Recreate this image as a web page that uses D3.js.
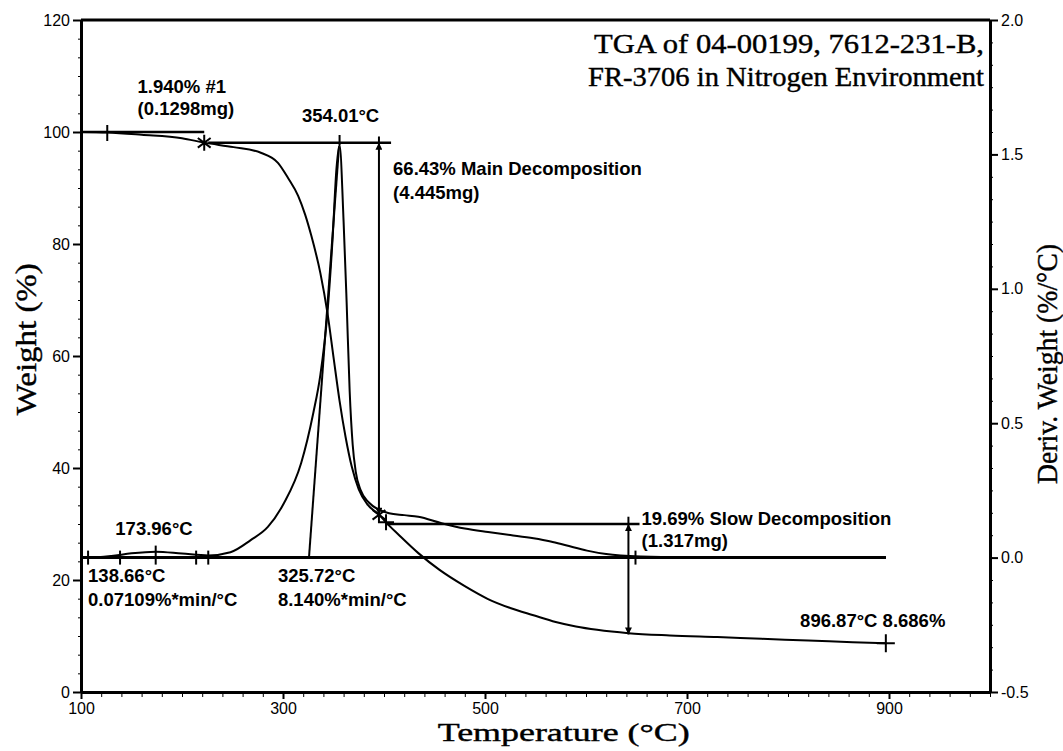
<!DOCTYPE html>
<html>
<head>
<meta charset="utf-8">
<script src="https://cdn.jsdelivr.net/npm/d3@7"></script>
<style>
  body { margin: 0; background: #fff; }
  .tick text { font-family: "Liberation Sans", Arial, sans-serif; font-size: 16px; fill: #000; }
  .note { font-family: "Liberation Sans", Arial, sans-serif; font-size: 18.5px; font-weight: bold; fill: #000; }
  .axis-title { font-family: "Liberation Serif", "Times New Roman", serif; font-size: 30px; fill: #000; stroke: #000; stroke-width: 0.4px; }
  .chart-title { font-family: "Liberation Serif", "Times New Roman", serif; font-size: 28px; fill: #000; stroke: #000; stroke-width: 0.4px; }
</style>
</head>
<body>
<div id="chart"></div>
<script>
// TGA weight curve (temperature in °C, weight in %)
const weightTemp = [100, 126, 160, 200, 222, 251, 278, 295, 305, 315, 322, 328, 337, 344, 350, 356, 362, 368, 375, 384, 395, 402, 415, 434, 455, 480, 503, 525, 548, 570, 590, 611, 642, 683, 730, 774, 820, 864, 897];
const weightPct  = [100, 99.9, 99.5, 98.9, 98.1, 97.3, 96.3, 94.5, 91.8, 88.6, 85.2, 81.5, 74.8, 67.7, 59.8, 52.0, 45.5, 40.3, 36.2, 33.4, 31.7, 30.3, 28.0, 24.8, 21.8, 18.9, 16.6, 15.0, 13.7, 12.5, 11.7, 11.1, 10.5, 10.1, 9.8, 9.5, 9.2, 8.9, 8.69];

// derivative weight curve (%/°C)
const derivTemp = [100, 107, 130, 150, 174, 200, 226, 248, 268, 285, 301, 318, 330, 337, 344, 349, 353, 356, 360, 363, 366, 369, 372, 377, 385, 395, 405, 420, 434, 457, 480, 503, 525, 548, 565, 580, 601, 620, 654, 700, 800, 897];
const derivVal  = [0, 0, 0.006, 0.016, 0.022, 0.015, 0.008, 0.02, 0.065, 0.114, 0.203, 0.352, 0.538, 0.68, 0.91, 1.18, 1.45, 1.535, 1.25, 0.95, 0.62, 0.42, 0.32, 0.25, 0.205, 0.178, 0.165, 0.158, 0.152, 0.128, 0.108, 0.095, 0.084, 0.072, 0.06, 0.046, 0.026, 0.013, 0.004, 0.001, 0, 0];

// axis ticks
const tempTicks = [100, 300, 500, 700, 900];
const weightTicks = [0, 20, 40, 60, 80, 100, 120];
const derivTicks = [-0.5, 0.0, 0.5, 1.0, 1.5, 2.0];

// analysis results
const stepLossTemps = [222, 395, 402, 642];        // step marker / arrow temperatures
const stepLossWeights = [100, 98.06, 31.63, 29.98, 10.29];
const onsetTemps = [138.66, 325.72];
const peakTemps = [173.96, 354.01];
const baselineMarks = [107, 138.66, 173.96, 214, 226, 649];
const endPoint = [896.87, 8.686];

const titleLines = ["TGA of 04-00199, 7612-231-B,", "FR-3706 in Nitrogen Environment"];

let width = 1063, height = 751;
let margin = {top: 20, right: 73, bottom: 59, left: 81};

let svg = d3.select("#chart").append("svg")
    .attr("width", width)
    .attr("height", height);

svg.append("rect").attr("width", width).attr("height", height).attr("fill", "#fff");

let x = d3.scaleLinear().domain([100, 1000]).range([margin.left, width - margin.right]);
let yW = d3.scaleLinear().domain([0, 120]).range([height - margin.bottom, margin.top]);
let yD = d3.scaleLinear().domain([-0.5, 2.0]).range([height - margin.bottom, margin.top]);

// minor ticks
svg.append("g")
    .attr("transform", "translate(0," + yW(0) + ")")
    .call(d3.axisBottom(x).tickValues(d3.range(100, 1001, 20)).tickSize(5).tickFormat(""))
    .call(g => g.select(".domain").remove());
svg.append("g")
    .attr("transform", "translate(" + x(100) + ",0)")
    .call(d3.axisLeft(yW).tickValues(d3.range(0, 120.01, 20 / 6)).tickSize(3).tickFormat(""))
    .call(g => g.select(".domain").remove());
svg.append("g")
    .attr("transform", "translate(" + x(1000) + ",0)")
    .call(d3.axisRight(yD).tickValues(d3.range(-0.5, 2.0001, 0.5 / 6)).tickSize(3).tickFormat(""))
    .call(g => g.select(".domain").remove());

// major axes
let xAxis = svg.append("g")
    .attr("transform", "translate(0," + yW(0) + ")")
    .call(d3.axisBottom(x).tickValues(tempTicks).tickSize(7).tickPadding(4).tickSizeOuter(0));
let yAxisL = svg.append("g")
    .attr("transform", "translate(" + x(100) + ",0)")
    .call(d3.axisLeft(yW).tickValues(weightTicks).tickSize(8).tickPadding(3).tickSizeOuter(0));
let yAxisR = svg.append("g")
    .attr("transform", "translate(" + x(1000) + ",0)")
    .call(d3.axisRight(yD).tickValues(derivTicks).tickSize(8).tickPadding(3).tickSizeOuter(0)
        .tickFormat(d => d3.format(".1f")(d).replace("−", "-")));

[xAxis, yAxisL, yAxisR].forEach(g => {
    g.select(".domain").attr("stroke-width", 3);
    g.selectAll(".tick line").attr("stroke-width", 2);
});
svg.selectAll("g line").attr("stroke", "#000");

// top frame
svg.append("line")
    .attr("x1", x(100)).attr("x2", x(1000))
    .attr("y1", yW(120)).attr("y2", yW(120))
    .attr("stroke", "#000").attr("stroke-width", 3);

// axis titles
svg.append("text").attr("class", "axis-title")
    .attr("x", x(578)).attr("y", height - 10)
    .attr("text-anchor", "middle")
    .style("font-size", "25px")
    .attr("textLength", 252).attr("lengthAdjust", "spacingAndGlyphs")
    .text("Temperature (°C)");
svg.append("text").attr("class", "axis-title")
    .attr("transform", "translate(36," + yW(63) + ") rotate(-90)")
    .attr("text-anchor", "middle")
    .attr("textLength", 152).attr("lengthAdjust", "spacingAndGlyphs")
    .text("Weight (%)");
svg.append("text").attr("class", "axis-title")
    .attr("transform", "translate(1057," + yD(0.72) + ") rotate(-90)")
    .attr("text-anchor", "middle")
    .attr("textLength", 240).attr("lengthAdjust", "spacingAndGlyphs")
    .text("Deriv. Weight (%/°C)");

// title
let titleWidths = [390, 396];
titleLines.forEach((t, i) => {
    svg.append("text").attr("class", "chart-title")
        .attr("x", x(1000) - 6).attr("y", 53 + i * 33)
        .attr("text-anchor", "end")
        .attr("textLength", titleWidths[i]).attr("lengthAdjust", "spacingAndGlyphs")
        .text(t);
});

// arrow head
svg.append("defs").append("marker")
    .attr("id", "arrow")
    .attr("viewBox", "0 0 10 10")
    .attr("refX", 10).attr("refY", 5)
    .attr("markerWidth", 11).attr("markerHeight", 7)
    .attr("markerUnits", "userSpaceOnUse")
    .attr("orient", "auto-start-reverse")
    .append("path").attr("d", "M0,0 L10,5 L0,10 z").attr("fill", "#000");

let plot = svg.append("g").attr("fill", "none").attr("stroke", "#000");

// curves
let weightData = weightTemp.map((t, i) => [t, weightPct[i]]);
let derivData = derivTemp.map((t, i) => [t, derivVal[i]]);

plot.append("path")
    .attr("d", d3.line().x(d => x(d[0])).y(d => yW(d[1])).curve(d3.curveMonotoneX)(weightData))
    .attr("stroke-width", 2);
plot.append("path")
    .attr("d", d3.line().x(d => x(d[0])).y(d => yD(d[1])).curve(d3.curveMonotoneX)(derivData))
    .attr("stroke-width", 2);

// derivative baseline
plot.append("line")
    .attr("x1", x(102)).attr("x2", x(897))
    .attr("y1", yD(0)).attr("y2", yD(0))
    .attr("stroke-width", 3);
baselineMarks.forEach(t => {
    let up = t === peakTemps[0] ? 12 : 7;
    plot.append("line")
        .attr("x1", x(t)).attr("x2", x(t))
        .attr("y1", yD(0) - up).attr("y2", yD(0) + 7)
        .attr("stroke-width", 2);
});

// onset tangent of main peak
plot.append("line")
    .attr("x1", x(onsetTemps[1])).attr("y1", yD(0))
    .attr("x2", x(355.5)).attr("y2", yD(1.53))
    .attr("stroke-width", 2);
// peak mark
plot.append("line")
    .attr("x1", x(peakTemps[1] + 2)).attr("x2", x(peakTemps[1] + 2))
    .attr("y1", yD(1.535)).attr("y2", yD(1.535) - 10)
    .attr("stroke-width", 2);

// step #1 (1.940%)
plot.append("line")
    .attr("x1", x(100)).attr("x2", x(stepLossTemps[0]))
    .attr("y1", yW(stepLossWeights[0])).attr("y2", yW(stepLossWeights[0]))
    .attr("stroke-width", 2.5);
plot.append("line")
    .attr("x1", x(stepLossTemps[0]) + 4).attr("x2", x(407))
    .attr("y1", yW(stepLossWeights[1])).attr("y2", yW(stepLossWeights[1]))
    .attr("stroke-width", 2.5);
plot.append("line")
    .attr("x1", x(126)).attr("x2", x(126))
    .attr("y1", yW(100) - 7).attr("y2", yW(100) + 9)
    .attr("stroke-width", 2);

// main decomposition arrow
plot.append("line")
    .attr("x1", x(stepLossTemps[1])).attr("x2", x(stepLossTemps[1]))
    .attr("y1", yW(99.2)).attr("y2", yW(stepLossWeights[1]))
    .attr("stroke-width", 2);
plot.append("line")
    .attr("x1", x(stepLossTemps[1])).attr("x2", x(stepLossTemps[1]))
    .attr("y1", yW(stepLossWeights[1])).attr("y2", yW(stepLossWeights[2]))
    .attr("stroke-width", 2)
    .attr("marker-start", "url(#arrow)")
    .attr("marker-end", "url(#arrow)");

// slow decomposition arrow
plot.append("line")
    .attr("x1", x(stepLossTemps[2])).attr("x2", x(653))
    .attr("y1", yW(stepLossWeights[3])).attr("y2", yW(stepLossWeights[3]))
    .attr("stroke-width", 2.5);
plot.append("line")
    .attr("x1", x(stepLossTemps[3])).attr("x2", x(stepLossTemps[3]))
    .attr("y1", yW(31.3)).attr("y2", yW(stepLossWeights[3]))
    .attr("stroke-width", 2);
plot.append("line")
    .attr("x1", x(stepLossTemps[3])).attr("x2", x(stepLossTemps[3]))
    .attr("y1", yW(stepLossWeights[3])).attr("y2", yW(stepLossWeights[4]))
    .attr("stroke-width", 2)
    .attr("marker-start", "url(#arrow)")
    .attr("marker-end", "url(#arrow)");

// star markers
function star(t, w) {
    let cx = x(t), cy = yW(w), r = 8;
    plot.append("path")
        .attr("d", "M" + cx + "," + (cy - r) + "V" + (cy + r) +
            "M" + (cx - r * 0.8) + "," + (cy - r * 0.6) + "L" + (cx + r * 0.8) + "," + (cy + r * 0.6) +
            "M" + (cx - r * 0.8) + "," + (cy + r * 0.6) + "L" + (cx + r * 0.8) + "," + (cy - r * 0.6))
        .attr("stroke-width", 2);
}
function cross(t, w, r) {
    let cx = x(t), cy = yW(w);
    plot.append("path")
        .attr("d", "M" + cx + "," + (cy - r) + "V" + (cy + r) + "M" + (cx - r) + "," + cy + "H" + (cx + r))
        .attr("stroke-width", 2);
}
star(stepLossTemps[0], stepLossWeights[1]);
star(stepLossTemps[1], stepLossWeights[2]);
cross(stepLossTemps[2], 30.3, 8);
cross(endPoint[0], endPoint[1], 9);

// notes
let notes = svg.append("g");
function note(txt, t, yPos, anchor) {
    notes.append("text").attr("class", "note")
        .attr("x", x(t)).attr("y", yPos)
        .attr("text-anchor", anchor || "start")
        .text(txt);
}
note("1.940% #1", 156, yW(107));
note("(0.1298mg)", 156, yW(103));
note(peakTemps[1].toFixed(2) + "°C", 357, yD(1.62), "middle");
note("66.43% Main Decomposition", 409, yW(92.3));
note("(4.445mg)", 409, yW(88));
note("19.69% Slow Decomposition", 655, yW(29.8));
note("(1.317mg)", 655, yW(25.9));
note(peakTemps[0].toFixed(2) + "°C", 134, yD(0.084));
note(onsetTemps[0].toFixed(2) + "°C", 107, yW(19.6));
note("0.07109%*min/°C", 107, yW(15.3));
note(onsetTemps[1].toFixed(2) + "°C", 295, yW(19.6));
note("8.140%*min/°C", 295, yW(15.3));
note(endPoint[0].toFixed(2) + "°C " + endPoint[1].toFixed(3) + "%", 812, yW(11.6));
</script>
</body>
</html>
